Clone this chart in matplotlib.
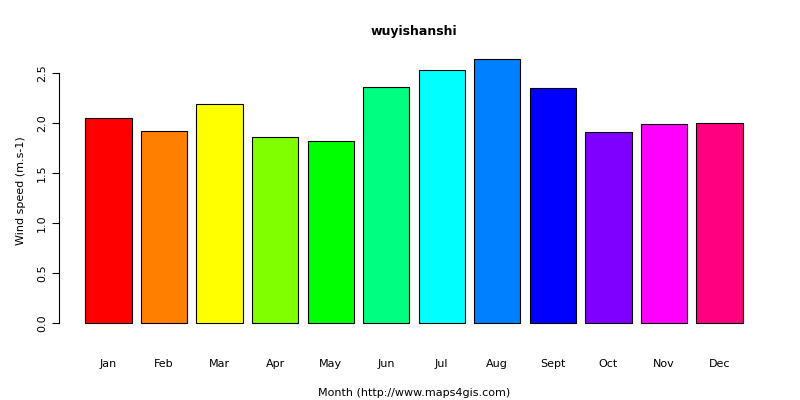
import matplotlib.pyplot as plt

months = ["Jan", "Feb", "Mar", "Apr", "May", "Jun", "Jul", "Aug", "Sept", "Oct", "Nov", "Dec"]
wind = [2.05, 1.92, 2.19, 1.86, 1.82, 2.36, 2.53, 2.64, 2.35, 1.91, 1.99, 2.00]
colors = ["#FF0000", "#FF8000", "#FFFF00", "#80FF00", "#00FF00", "#00FF80",
          "#00FFFF", "#0080FF", "#0000FF", "#8000FF", "#FF00FF", "#FF0080"]
yticks = [0.0, 0.5, 1.0, 1.5, 2.0, 2.5]

fig = plt.figure(figsize=(8, 4), dpi=100)
ax = fig.add_axes([59/800, 66/400, 710/800, 286/400])

# R barplot layout: width 1, space 0.2
xs = [0.2 + i*1.2 + 0.5 for i in range(len(months))]
ax.bar(xs, wind, width=1.0, color=colors, edgecolor="black", linewidth=0.8)

span = 14.4 - 0.2
ax.set_xlim(0.2 - 0.04*span, 14.4 + 0.04*span)
top = max(wind)
ax.set_ylim(-0.04*top, top*1.04)

for s in ["top", "right", "bottom"]:
    ax.spines[s].set_visible(False)
ax.spines["left"].set_bounds(0, 2.5)
ax.set_yticks(yticks)
ax.set_yticklabels([f"{v:.1f}" for v in yticks], rotation=90, va="center", fontsize=8)
ax.set_xticks(xs)
ax.set_xticklabels(months, fontsize=8)
ax.tick_params(axis="x", length=0, pad=18)
ax.tick_params(axis="y", length=5)

ax.set_ylabel("Wind speed (m.s-1)", fontsize=8, labelpad=8)
ax.set_xlabel("Month (http://www.maps4gis.com)", fontsize=8, labelpad=14)
fig.text(414/800, 1 - 31/400, "wuyishanshi", ha="center", va="center",
         fontsize=9, fontweight="bold")

fig.savefig("out.png")
